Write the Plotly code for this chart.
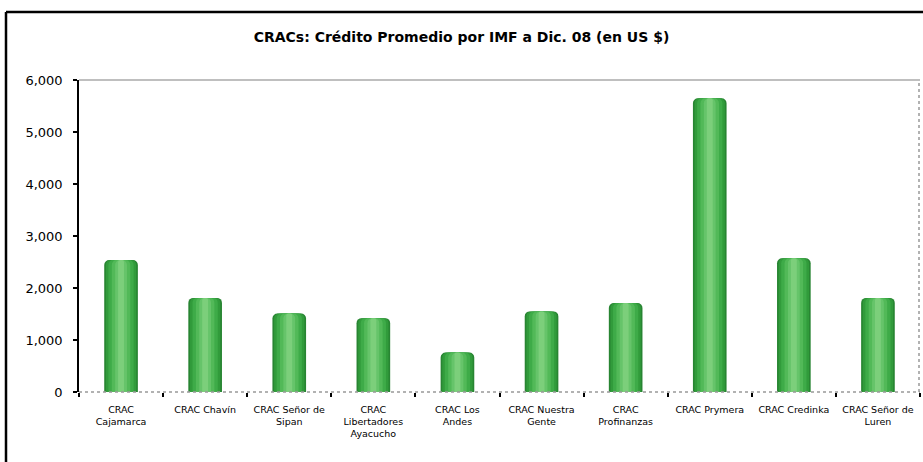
import plotly.graph_objects as go

categories = ["CRAC<br>Cajamarca", "CRAC Chavín", "CRAC Señor de<br>Sipan",
              "CRAC<br>Libertadores<br>Ayacucho", "CRAC Los<br>Andes", "CRAC Nuestra<br>Gente",
              "CRAC<br>Profinanzas", "CRAC Prymera", "CRAC Credinka", "CRAC Señor de<br>Luren"]
values = [2540, 1810, 1510, 1420, 760, 1550, 1710, 5650, 2570, 1810]
title_text = "CRACs: Crédito Promedio por IMF a Dic. 08 (en US $)"
y_ticks = [0, 1000, 2000, 3000, 4000, 5000, 6000]

FONT = "DejaVu Sans"
fig = go.Figure()

# layered bars to mimic a cylinder shading
layers = [(0.40, "#288532"), (0.36, "#319b3b"), (0.30, "#3eab48"),
          (0.22, "#52b958"), (0.14, "#66c46a"), (0.07, "#7ccf7b")]
for w, c in layers:
    fig.add_trace(go.Bar(x=categories, y=values, width=w, marker_color=c,
                         marker_line_width=0, hoverinfo="skip", showlegend=False))

L, R, T, B = 79, 3, 80, 70
W, H = 923, 462
pw = W - L - R
ph = H - T - B


def py(y_px):
    return (T + ph - y_px) / ph


def px(x_px):
    return (x_px - L) / pw


fig.update_layout(
    width=W, height=H,
    margin=dict(l=L, r=R, t=T, b=B, autoexpand=False),
    barmode="overlay",
    barcornerradius=5,
    paper_bgcolor="white", plot_bgcolor="white",
    font=dict(family=FONT, color="black"),
    title=dict(text="<b>" + title_text + "</b>", x=0.5, xanchor="center",
               y=1 - 37 / H, yanchor="middle", font=dict(size=14, family=FONT)),
    xaxis=dict(type="category", showgrid=False, showline=False, zeroline=False,
               ticks="outside", tickson="boundaries", ticklen=4, tickwidth=2,
               tickcolor="black", tickfont=dict(size=9.5, family=FONT),
               ticklabelstandoff=10, automargin=False),
    yaxis=dict(range=[0, 6000], tickvals=y_ticks, tickformat=",d",
               showgrid=False, zeroline=False, showline=True, linecolor="black",
               linewidth=1.5, ticks="outside", ticklen=4, tickwidth=2,
               tickcolor="black", tickfont=dict(size=13, family=FONT),
               ticklabelstandoff=8, automargin=False),
    shapes=[
        # x axis dotted gray line
        dict(type="line", xref="paper", yref="paper", x0=0, x1=1, y0=0, y1=0,
             line=dict(color="#999999", width=1.5, dash="dot"), layer="above"),
        # plot area top border
        dict(type="line", xref="paper", yref="paper", x0=0, x1=1, y0=1, y1=1,
             line=dict(color="#aaaaaa", width=1.5)),
        # plot area right border (dotted)
        dict(type="line", xref="paper", yref="paper", x0=px(919), x1=px(919), y0=0, y1=1,
             line=dict(color="#999999", width=1.5, dash="dot")),
        # outer chart border (left & top visible)
        dict(type="line", xref="paper", yref="paper",
             x0=px(6), x1=px(6), y0=py(475), y1=py(12),
             line=dict(color="black", width=2.5)),
        dict(type="line", xref="paper", yref="paper",
             x0=px(6), x1=px(935), y0=py(12), y1=py(12),
             line=dict(color="black", width=2.5)),
    ],
)

fig.write_html("out.html", config={"displayModeBar": False},
               post_script="document.body.style.margin='0';")
